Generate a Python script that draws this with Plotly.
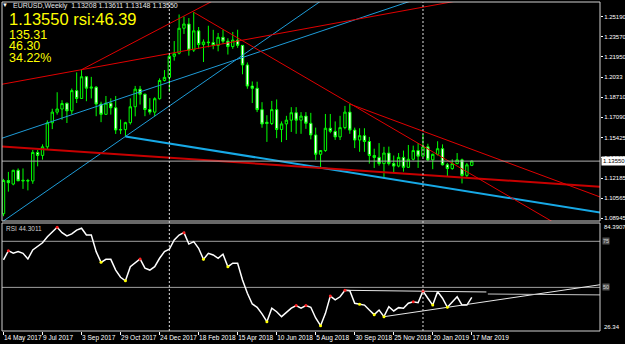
import pandas as pd
import plotly.graph_objects as go

# ---------------- data ----------------
start = pd.Timestamp("2017-05-14")
dates = pd.date_range(start, periods=97, freq="7D")

opens = [1.0931, 1.1199, 1.1170, 1.1281, 1.1201, 1.1199, 1.1195, 1.1425, 1.1401, 1.1470,
         1.1664, 1.1750, 1.1775, 1.1822, 1.1760, 1.1923, 1.1860, 1.2035, 1.1943, 1.1951,
         1.1815, 1.1732, 1.1822, 1.1785, 1.1606, 1.1609, 1.1665, 1.1793, 1.1935, 1.1894,
         1.1771, 1.1750, 1.1858, 1.2005, 1.2030, 1.2200, 1.2225, 1.2426, 1.2460, 1.2250,
         1.2405, 1.2295, 1.2315, 1.2310, 1.2288, 1.2353, 1.2322, 1.2278, 1.2330, 1.2288,
         1.2130, 1.1960, 1.1942, 1.1770, 1.1668, 1.1658, 1.1770, 1.1610, 1.1655, 1.1685,
         1.1745, 1.1685, 1.1718, 1.1660, 1.1566, 1.1410, 1.1440, 1.1620, 1.1595, 1.1550,
         1.1625, 1.1750, 1.1605, 1.1525, 1.1560, 1.1513, 1.1400, 1.1385, 1.1335, 1.1420,
         1.1335, 1.1315, 1.1385, 1.1305, 1.1370, 1.1440, 1.1395, 1.1470, 1.1365, 1.1410,
         1.1455, 1.1325, 1.1295, 1.1335, 1.1365, 1.1240, 1.13208]
highs = [1.1212, 1.1268, 1.1285, 1.1296, 1.1296, 1.1212, 1.1445, 1.1445, 1.1490, 1.1683,
         1.1777, 1.1910, 1.1846, 1.1826, 1.1940, 1.2070, 1.2092, 1.2037, 1.2034, 1.1960,
         1.1834, 1.1880, 1.1861, 1.1880, 1.1690, 1.1672, 1.1861, 1.1961, 1.1961, 1.1899,
         1.1863, 1.1870, 1.2022, 1.2089, 1.2219, 1.2323, 1.2537, 1.2520, 1.2508, 1.2555,
         1.2436, 1.2336, 1.2446, 1.2413, 1.2388, 1.2414, 1.2345, 1.2396, 1.2414, 1.2290,
         1.2150, 1.1997, 1.1995, 1.1830, 1.1725, 1.1840, 1.1852, 1.1675, 1.1720, 1.1790,
         1.1790, 1.1750, 1.1750, 1.1744, 1.1625, 1.1444, 1.1735, 1.1735, 1.1675, 1.1720,
         1.1800, 1.1815, 1.1625, 1.1620, 1.1620, 1.1550, 1.1455, 1.1500, 1.1470, 1.1472,
         1.1400, 1.1420, 1.1440, 1.1485, 1.1480, 1.1500, 1.1570, 1.1495, 1.1415, 1.1515,
         1.1490, 1.1340, 1.1370, 1.1420, 1.1375, 1.1340, 1.13611]
lows = [1.0911, 1.1109, 1.1160, 1.1194, 1.1131, 1.1119, 1.1172, 1.1313, 1.1367, 1.1446,
        1.1613, 1.1730, 1.1688, 1.1662, 1.1730, 1.1823, 1.1856, 1.1838, 1.1860, 1.1717,
        1.1669, 1.1730, 1.1730, 1.1574, 1.1573, 1.1554, 1.1650, 1.1716, 1.1811, 1.1717,
        1.1730, 1.1716, 1.1850, 1.1997, 1.1916, 1.2165, 1.2215, 1.2380, 1.2205, 1.2235,
        1.2260, 1.2154, 1.2272, 1.2257, 1.2240, 1.2300, 1.2214, 1.2260, 1.2268, 1.2055,
        1.1938, 1.1823, 1.1750, 1.1624, 1.1510, 1.1646, 1.1540, 1.1508, 1.1525, 1.1590,
        1.1575, 1.1575, 1.1615, 1.1530, 1.1365, 1.1300, 1.1430, 1.1580, 1.1526, 1.1525,
        1.1611, 1.1575, 1.1460, 1.1430, 1.1430, 1.1335, 1.1300, 1.1318, 1.1215, 1.1320,
        1.1266, 1.1305, 1.1270, 1.1300, 1.1360, 1.1300, 1.1390, 1.1355, 1.1290, 1.1400,
        1.1320, 1.1235, 1.1285, 1.1330, 1.1175, 1.1220, 1.13148]
closes = [1.1199, 1.1181, 1.1281, 1.1196, 1.1196, 1.1195, 1.1425, 1.1401, 1.1470, 1.1664,
          1.1750, 1.1775, 1.1819, 1.1760, 1.1923, 1.1860, 1.2035, 1.1943, 1.1951, 1.1815,
          1.1732, 1.1822, 1.1785, 1.1606, 1.1609, 1.1665, 1.1793, 1.1935, 1.1894, 1.1771,
          1.1750, 1.1858, 1.2005, 1.2030, 1.2200, 1.2220, 1.2426, 1.2460, 1.2250, 1.2405,
          1.2295, 1.2315, 1.2310, 1.2288, 1.2353, 1.2322, 1.2278, 1.2330, 1.2288, 1.2130,
          1.1960, 1.1942, 1.1770, 1.1654, 1.1658, 1.1770, 1.1610, 1.1655, 1.1685, 1.1745,
          1.1685, 1.1718, 1.1660, 1.1566, 1.1410, 1.1440, 1.1620, 1.1595, 1.1550, 1.1625,
          1.1750, 1.1605, 1.1525, 1.1560, 1.1513, 1.1400, 1.1385, 1.1335, 1.1420, 1.1335,
          1.1315, 1.1385, 1.1305, 1.1370, 1.1440, 1.1395, 1.1470, 1.1365, 1.1410, 1.1455,
          1.1325, 1.1295, 1.1335, 1.1365, 1.1240, 1.1325, 1.13550]

rsi = [64.9, 69.9, 68.5, 69.4, 68.5, 65.4, 70.3, 72.5, 74.2, 77.5,
       80.2, 82.6, 79.7, 77.9, 79.0, 81.1, 82.1, 78.4, 78.4, 69.4,
       63.6, 65.2, 65.2, 59.4, 55.5, 53.6, 61.2, 63.4, 65.4, 60.4,
       59.4, 61.2, 65.8, 69.4, 70.7, 75.7, 78.4, 79.7, 73.5, 74.8,
       71.2, 65.2, 68.5, 67.6, 65.8, 68.0, 61.2, 63.1, 63.1, 54.0,
       46.8, 41.0, 39.2, 35.6, 31.4, 38.7, 36.8, 34.1, 36.3, 38.7,
       40.1, 38.7, 40.1, 39.2, 33.4, 29.2, 35.9, 45.3, 43.2, 44.9,
       48.4, 48.2, 41.4, 40.8, 40.4, 37.7, 35.2, 37.7, 34.1, 39.5,
       37.2, 39.0, 38.7, 41.4, 42.2, 41.7, 48.0, 44.1, 40.4, 47.7,
       44.1, 39.2, 42.2, 44.9, 40.4, 40.4, 44.6]
rsi_peaks = [1, 11, 28, 37, 60, 62, 67, 70, 84, 86]
rsi_troughs = [20, 25, 41, 46, 54, 65, 73, 76, 78, 88, 91]

price_ticks = [1.25190, 1.23570, 1.21950, 1.20330, 1.18710, 1.17090,
               1.15425, 1.13805, 1.12185, 1.10565, 1.08945]
price_tick_text = ["1.25190", "1.23570", "1.21950", "1.2033", "1.18710", "1.17090",
                   "1.15425", "1.13805", "1.12185", "1.10565", "1.08945"]
time_tick_bars = [0, 8, 16, 24, 32, 40, 48, 56, 64, 72, 80, 88, 96]
time_tick_text = ["14 May 2017", "9 Jul 2017", "3 Sep 2017", "29 Oct 2017", "24 Dec 2017",
                  "18 Feb 2018", "15 Apr 2018", "10 Jun 2018", "5 Aug 2018", "30 Sep 2018",
                  "25 Nov 2018", "20 Jan 2019", "17 Mar 2019"]
separator_bars = [34, 86]
current_price = 1.13550

# trendlines as (bar index, value) anchor pairs
red_thin_lines = [[(-1, 1.19696), (123, 1.28624)],
                  [(16, 1.2092), (45, 1.26894)],
                  [(39, 1.2555), (123, 1.06264)],
                  [(71, 1.1815), (123, 1.10558)]]
red_thick_line = [(-1, 1.1475), (123, 1.11464)]
blue_thin_lines = [[(-1, 1.15306), (123, 1.31661)],
                   [(-1, 1.08455), (70, 1.27800)]]
blue_thick_line = [(25, 1.1554), (123, 1.09356)]
rsi_trend_lines = [[(78, 34.09), (123, 51.7)],
                   [(70, 48.42), (99, 47.5)],
                   [(99.3, 46.4), (123, 45.9)]]
rsi_levels = [75, 50]


def bar_date(i):
    return start + pd.Timedelta(days=7 * i)


# ---------------- figure ----------------
W, H = 625, 344
ML, MR, MT, MB = 2, 25, 2, 13
PW, PH = W - ML - MR, H - MT - MB


def pxx(x):
    return (x - ML) / PW


def pxy(y):
    return (H - MB - y) / PH


main_dom = [pxy(221), 1.0]
rsi_dom = [0.0, pxy(223)]

fig = go.Figure()

fig.add_trace(go.Candlestick(
    x=dates, open=opens, high=highs, low=lows, close=closes,
    increasing=dict(line=dict(color="#00ff00", width=1), fillcolor="#000000"),
    decreasing=dict(line=dict(color="#00ff00", width=1), fillcolor="#ffffff"),
    whiskerwidth=0, xaxis="x", yaxis="y", showlegend=False, hoverinfo="skip"))


def add_line(pts, color, width, yaxis="y"):
    fig.add_trace(go.Scatter(
        x=[bar_date(p[0]) for p in pts], y=[p[1] for p in pts], mode="lines",
        line=dict(color=color, width=width), xaxis="x", yaxis=yaxis,
        showlegend=False, hoverinfo="skip"))


for ln in blue_thin_lines:
    add_line(ln, "#1e9bd7", 1)
add_line(blue_thick_line, "#17a9e6", 2)
add_line(red_thick_line, "#c80000", 2)
for ln in red_thin_lines:
    add_line(ln, "#e00000", 1)

# RSI
fig.add_trace(go.Scatter(x=dates, y=rsi, mode="lines", line=dict(color="#ffffff", width=1.5),
                         xaxis="x", yaxis="y2", showlegend=False, hoverinfo="skip"))
add_line(rsi_trend_lines[0], "#e8e8e8", 1, "y2")
add_line(rsi_trend_lines[1], "#e8e8e8", 1, "y2")
add_line(rsi_trend_lines[2], "#c8c8c8", 1, "y2")
fig.add_trace(go.Scatter(x=[dates[i] for i in rsi_peaks], y=[rsi[i] for i in rsi_peaks],
                         mode="markers", marker=dict(color="#ff2020", size=3),
                         xaxis="x", yaxis="y2", showlegend=False, hoverinfo="skip"))
fig.add_trace(go.Scatter(x=[dates[i] for i in rsi_troughs], y=[rsi[i] for i in rsi_troughs],
                         mode="markers", marker=dict(color="#ffff00", size=3),
                         xaxis="x", yaxis="y2", showlegend=False, hoverinfo="skip"))

shapes = []
shapes.append(dict(type="line", xref="paper", x0=0, x1=1, yref="y", y0=current_price,
                   y1=current_price, line=dict(color="#b0b0b0", width=1), layer="above"))
for lv in rsi_levels:
    shapes.append(dict(type="line", xref="paper", x0=0, x1=1, yref="y2", y0=lv, y1=lv,
                       line=dict(color="#a0a0a0", width=1), layer="below"))
for b in separator_bars:
    shapes.append(dict(type="line", xref="x", x0=bar_date(b), x1=bar_date(b), yref="paper",
                       y0=0, y1=1, line=dict(color="#e0e0e0", width=1, dash="2px,2px"),
                       layer="above"))
for dom in (main_dom, rsi_dom):
    shapes.append(dict(type="rect", xref="paper", x0=0, x1=1, yref="paper", y0=dom[0],
                       y1=dom[1], line=dict(color="#d0d0d0", width=1), layer="above"))

FONT = "Liberation Sans"
ann = []
ann.append(dict(x=pxx(5), y=pxy(5.5), xref="paper", yref="paper", text="▼", showarrow=False,
                font=dict(family=FONT, size=6, color="#ffffff"), xanchor="center", yanchor="middle"))
ann.append(dict(x=pxx(11), y=pxy(6), xref="paper", yref="paper",
                text="EURUSD,Weekly  1.13208 1.13611 1.13148 1.13550", showarrow=False,
                font=dict(family=FONT, size=7, color="#e8e8e8"), xanchor="left", yanchor="middle"))
ann.append(dict(x=pxx(7), y=pxy(18.5), xref="paper", yref="paper", text="1.13550 rsi:46.39",
                showarrow=False, font=dict(family=FONT, size=16.5, color="#ffff00"),
                xanchor="left", yanchor="middle"))
for txt, yy in (("135.31", 35), ("46.30", 46), ("34.22%", 58)):
    ann.append(dict(x=pxx(7), y=pxy(yy), xref="paper", yref="paper", text=txt, showarrow=False,
                    font=dict(family=FONT, size=12.5, color="#ffff00"),
                    xanchor="left", yanchor="middle"))
ann.append(dict(x=pxx(4), y=pxy(228), xref="paper", yref="paper", text="RSI 44.3011",
                showarrow=False, font=dict(family=FONT, size=6.5, color="#d0d0d0"),
                xanchor="left", yanchor="middle"))
ann.append(dict(x=pxx(602), y=pxy(226.5), xref="paper", yref="paper", text="84.3907",
                showarrow=False, font=dict(family=FONT, size=6, color="#ffffff"),
                xanchor="left", yanchor="middle"))
ann.append(dict(x=pxx(602), y=pxy(327), xref="paper", yref="paper", text="26.34",
                showarrow=False, font=dict(family=FONT, size=6, color="#ffffff"),
                xanchor="left", yanchor="middle"))
for lv in rsi_levels:
    ann.append(dict(x=pxx(602), y=lv, xref="paper", yref="y2", text=str(lv), showarrow=False,
                    font=dict(family=FONT, size=5.5, color="#d0d0d0"), bgcolor="#505050",
                    borderpad=0, xanchor="left", yanchor="middle"))
ann.append(dict(x=pxx(601), y=current_price, xref="paper", yref="y", text="1.13550",
                showarrow=False, font=dict(family=FONT, size=6, color="#000000"),
                bgcolor="#ffffff", borderpad=1, xanchor="left", yanchor="middle"))

x_lo = bar_date(-0.3075)
x_hi = bar_date(122.29)

fig.update_layout(
    width=W, height=H, margin=dict(l=ML, r=MR, t=MT, b=MB, autoexpand=False),
    paper_bgcolor="#000000", plot_bgcolor="#000000",
    showlegend=False, shapes=shapes, annotations=ann, hovermode=False,
    xaxis=dict(type="date", range=[x_lo, x_hi], anchor="y2", domain=[0, 1],
               tickvals=[dates[i] for i in time_tick_bars], ticktext=time_tick_text,
               ticklabelposition="outside right", ticks="outside", ticklen=3,
               tickangle=0, automargin=False,
               tickcolor="#ffffff", tickfont=dict(family=FONT, size=6.5, color="#ffffff"),
               showgrid=False, zeroline=False, showline=False,
               rangeslider=dict(visible=False)),
    yaxis=dict(domain=main_dom, range=[1.08723, 1.26375], side="right", anchor="x",
               tickvals=price_ticks, ticktext=price_tick_text, ticks="outside", ticklen=2,
               automargin=False,
               tickcolor="#ffffff", tickfont=dict(family=FONT, size=6, color="#ffffff"),
               showgrid=False, zeroline=False, showline=False),
    yaxis2=dict(domain=rsi_dom, range=[26.33, 84.93], side="right", anchor="x",
                showticklabels=False, ticks="", showgrid=False, zeroline=False,
                showline=False, automargin=False),
)

fig.write_html("out.html")
